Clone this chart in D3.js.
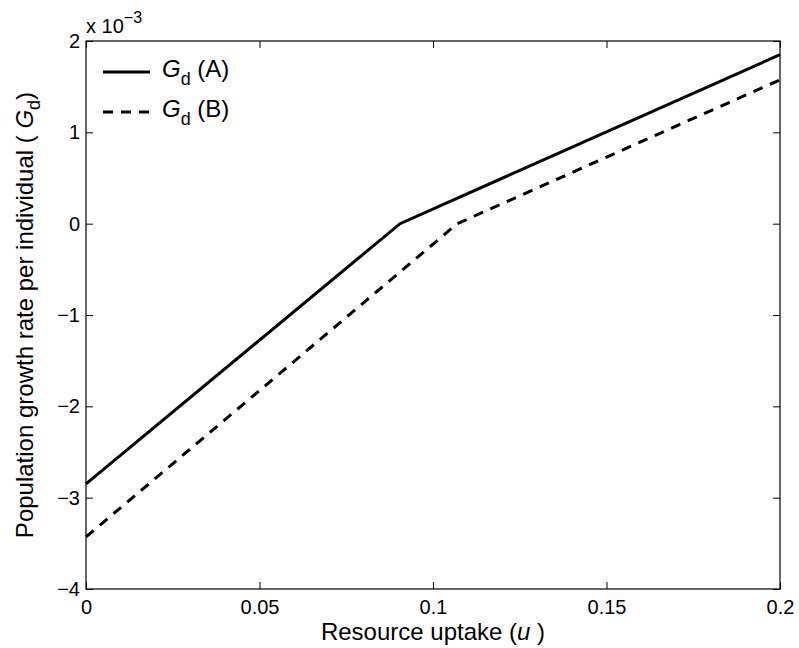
<!DOCTYPE html>
<html>
<head>
<meta charset="utf-8">
<script src="https://cdn.jsdelivr.net/npm/d3@7"></script>
<style>
  body { margin: 0; background: #fff; }
  svg { font-family: "Liberation Sans", Arial, sans-serif; }
</style>
</head>
<body>
<div id="chart"></div>
<script>
// values in units of 1e-3
const uA = [0, 0.0905, 0.2];
const gA = [-2.85, 0, 1.85];
const uB = [0, 0.107, 0.2];
const gB = [-3.43, 0, 1.575];
const xTicks = [0, 0.05, 0.1, 0.15, 0.2];
const yTicks = [-4, -3, -2, -1, 0, 1, 2];
const seriesNames = ["(A)", "(B)"];

const W = 799, H = 648;
const margin = { top: 41, right: 19, bottom: 59, left: 86 };
const width = W - margin.left - margin.right;
const height = H - margin.top - margin.bottom;

const svg = d3.select("#chart").append("svg")
    .attr("width", W).attr("height", H);
const g = svg.append("g")
    .attr("transform", "translate(" + margin.left + "," + margin.top + ")");

const x = d3.scaleLinear().domain([0, 0.2]).range([0, width]);
const y = d3.scaleLinear().domain([-4, 2]).range([height, 0]);

const fmtX = d => d === 0 ? "0" : String(d);
const fmtY = d => d < 0 ? "\u2212" + Math.abs(d) : String(d);

// axes, ticks pointing inward
const ax = (sel) => sel.selectAll(".domain").remove();
g.append("g").attr("transform", "translate(0," + height + ")")
    .call(d3.axisBottom(x).tickValues(xTicks).tickSize(-7).tickPadding(11).tickFormat(fmtX))
    .call(ax);
g.append("g")
    .call(d3.axisTop(x).tickValues(xTicks).tickSize(-7).tickFormat(""))
    .call(ax);
g.append("g")
    .call(d3.axisLeft(y).tickValues(yTicks).tickSize(-7).tickPadding(6).tickFormat(fmtY))
    .call(ax);
g.append("g").attr("transform", "translate(" + width + ",0)")
    .call(d3.axisRight(y).tickValues(yTicks).tickSize(-7).tickFormat(""))
    .call(ax);
g.selectAll(".tick line").attr("stroke", "#000").attr("stroke-width", 1);
g.selectAll(".tick text").attr("font-size", 20).attr("fill", "#000")
    .attr("font-family", "Liberation Sans, Arial, sans-serif");

g.append("rect").attr("width", width).attr("height", height)
    .attr("fill", "none").attr("stroke", "#000").attr("stroke-width", 1.2);

const line = d3.line().x(d => x(d[0])).y(d => y(d[1]));
g.append("path").datum(uA.map((u, i) => [u, gA[i]]))
    .attr("d", line).attr("fill", "none").attr("stroke", "#000").attr("stroke-width", 3);
g.append("path").datum(uB.map((u, i) => [u, gB[i]]))
    .attr("d", line).attr("fill", "none").attr("stroke", "#000").attr("stroke-width", 3)
    .attr("stroke-dasharray", "10,8");

// exponent label
const ex = svg.append("text").attr("x", margin.left).attr("y", 33)
    .attr("font-size", 20).attr("fill", "#000");
ex.append("tspan").text("x 10");
ex.append("tspan").attr("dy", -10).attr("font-size", 16).text("\u22123");

// legend
const legY = [72, 112];
seriesNames.forEach((name, i) => {
  g.append("line").attr("x1", 17).attr("x2", 64)
      .attr("y1", legY[i] - margin.top).attr("y2", legY[i] - margin.top)
      .attr("stroke", "#000").attr("stroke-width", 3)
      .attr("stroke-dasharray", i === 1 ? "10,8" : null);
  const t = g.append("text").attr("x", 76).attr("y", legY[i] - margin.top + 5)
      .attr("font-size", 24).attr("fill", "#000");
  t.append("tspan").attr("font-style", "italic").text("G");
  t.append("tspan").attr("dy", 8).attr("font-size", 18).text("d");
  t.append("tspan").attr("dy", -8).text(" " + name);
});

// x label
const xl = svg.append("text").attr("x", margin.left + width / 2).attr("y", 640)
    .attr("text-anchor", "middle").attr("font-size", 24).attr("fill", "#000");
xl.append("tspan").text("Resource uptake (");
xl.append("tspan").attr("font-style", "italic").text("u");
xl.append("tspan").text(" )");

// y label
const yl = svg.append("text")
    .attr("transform", "translate(33," + (margin.top + height / 2) + ") rotate(-90)")
    .attr("text-anchor", "middle").attr("font-size", 24).attr("fill", "#000");
yl.append("tspan").text("Population growth rate per individual ( ");
yl.append("tspan").attr("font-style", "italic").text("G");
yl.append("tspan").attr("dy", 7).attr("font-size", 18).text("d");
yl.append("tspan").attr("dy", -7).text(")");
</script>
</body>
</html>
